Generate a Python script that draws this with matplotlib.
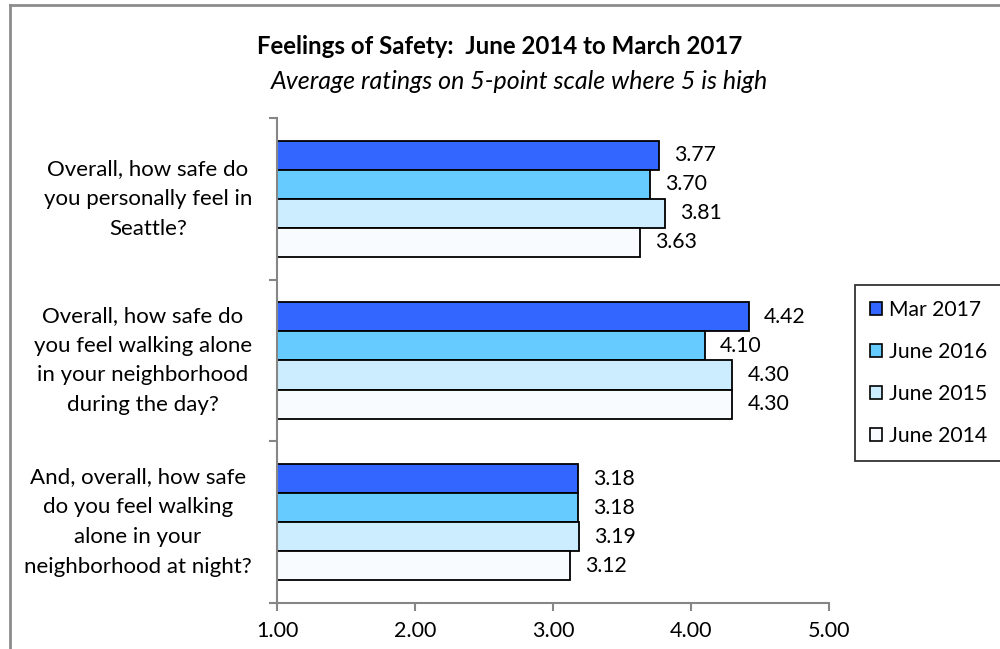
import numpy as np
import matplotlib.pyplot as plt
from matplotlib.lines import Line2D
from matplotlib.patches import Patch
from matplotlib.transforms import blended_transform_factory

plt.rcParams["font.family"] = ["Lato", "DejaVu Sans"]

# data
questions = [
    "Overall, how safe do\nyou personally feel in\nSeattle?",
    "Overall, how safe do\nyou feel walking alone\nin your neighborhood\nduring the day?",
    "And, overall, how safe\ndo you feel walking\nalone in your\nneighborhood at night?",
]
series_names = ["Mar 2017", "June 2016", "June 2015", "June 2014"]
mar_2017 = [3.77, 4.42, 3.18]
june_2016 = [3.70, 4.10, 3.18]
june_2015 = [3.81, 4.30, 3.19]
june_2014 = [3.63, 4.30, 3.12]
x_ticks = [1.00, 2.00, 3.00, 4.00, 5.00]

colors = ["#3366FF", "#66CCFF", "#CCECFF", "#F8FBFF"]
series = [mar_2017, june_2016, june_2015, june_2014]

fig = plt.figure(figsize=(10, 6.49), dpi=100)
ax = fig.add_axes([0.277, 0.0709, 0.552, 0.7473])

y_pos = np.arange(len(questions))
h = 0.18
for i, (vals, col) in enumerate(zip(series, colors)):
    offs = (i - 1.5) * h
    ax.barh(y_pos + offs, np.array(vals) - 1.0, left=1.0, height=h,
            color=col, edgecolor="black", linewidth=1.3, zorder=2)
    for y, v in zip(y_pos, vals):
        ax.annotate("%.2f" % v, (v, y + offs), xytext=(11, 0),
                    textcoords="offset points", va="center", ha="left",
                    fontsize=15.3)

ax.set_xlim(1, 5)
ax.set_ylim(2.5, -0.5)
ax.set_xticks(x_ticks)
ax.set_xticklabels(["%.2f" % t for t in x_ticks], fontsize=15.5)
ax.set_yticks([-0.5, 0.5, 1.5, 2.5])
ax.set_yticklabels([])

for s in ["top", "right"]:
    ax.spines[s].set_visible(False)
for s in ["left", "bottom"]:
    ax.spines[s].set_color("#868686")
    ax.spines[s].set_linewidth(1.5)
ax.tick_params(axis="both", colors="#868686", length=6, width=1.5,
               labelcolor="black")
ax.tick_params(axis="x", pad=7)

# question labels: each block centred, right edge just left of the axis
trans = blended_transform_factory(fig.transFigure, ax.transData)
for y, q in zip(y_pos, questions):
    ax.text(0.252, y, q, transform=trans, ha="right", va="center",
            multialignment="center", fontsize=16, linespacing=1.62)

fig.text(0.5, 0.928, "Feelings of Safety:  June 2014 to March 2017",
         ha="center", va="center", fontsize=17.3, fontweight="bold")
fig.text(0.519, 0.875, "Average ratings on 5-point scale where 5 is high",
         ha="center", va="center", fontsize=18, style="italic")

handles = [Patch(facecolor=c, edgecolor="black", linewidth=1.2) for c in colors]
leg = fig.legend(handles, series_names, loc="upper left",
                 bbox_to_anchor=(0.855, 0.561), fontsize=15.2,
                 frameon=True, fancybox=False, handlelength=0.6,
                 handleheight=0.6, handletextpad=0.3, labelspacing=1.05,
                 borderpad=0.7, borderaxespad=0)
leg.get_frame().set_edgecolor("black")
leg.get_frame().set_linewidth(1.3)

# outer chart frame (only left/top visible in the crop)
fig.add_artist(Line2D([0.0095, 0.0095], [0, 0.992], transform=fig.transFigure,
                      color="#8c8c8c", linewidth=2))
fig.add_artist(Line2D([0.0095, 1.0], [0.992, 0.992], transform=fig.transFigure,
                      color="#8c8c8c", linewidth=2))

fig.savefig("out.png", dpi=100)
